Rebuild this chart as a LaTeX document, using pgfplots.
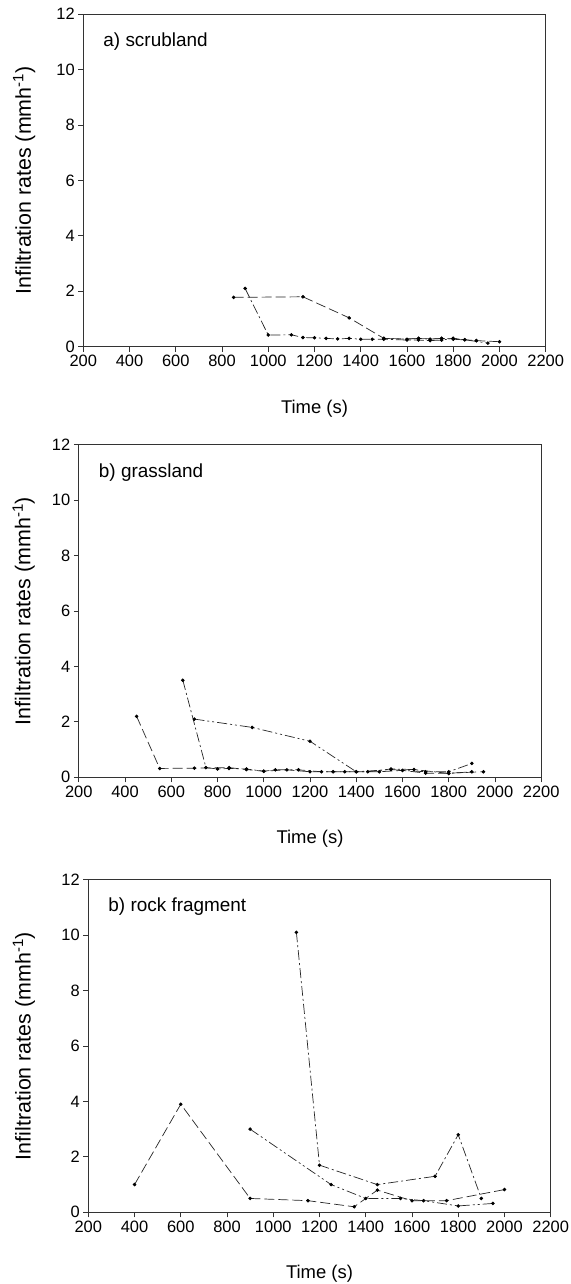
\documentclass[border=0pt]{standalone}
\usepackage{fontspec}
\setmainfont{Liberation Sans}
\usepackage{pgfplots}
\pgfplotsset{compat=1.18}

\pgfplotsset{
  panel/.style={
    scale only axis,
    width=462.4bp, height=332.7bp,
    anchor=south west,
    xmin=200, xmax=2200, ymin=0, ymax=12,
    xtick={200,400,...,2200}, ytick={0,2,...,12},
    tick align=outside, xtick pos=bottom, ytick pos=left,
    major tick length=5bp,
    axis line style={black!80, line width=0.8bp},
    every tick/.style={black!80, line width=0.8bp},
    /pgf/number format/assume math mode=true,
    /pgf/number format/1000 sep={},
    tick label style={font=\fontsize{16.5}{18}\selectfont},
    xlabel={Time (s)},
    ylabel={Infiltration rates (mmh\textsuperscript{-1})},
    every axis x label/.style={at={(axis description cs:0.5,-0.186)}, anchor=center,
      font=\fontsize{18.5}{21}\selectfont},
    clip=false,
  },
  ylab/.style={every axis y label/.style={at={(axis description cs:#1,0.5)}, rotate=90, anchor=center,
      font=\fontsize{21.5}{24}\selectfont}},
  ldash/.style={black!85, line width=0.7bp, dash pattern=on 10bp off 4bp,
    mark=*, mark size=1.4bp, mark options={solid, black}},
  ddot/.style={black!85, line width=0.7bp, dash pattern=on 10bp off 3bp on 2bp off 3bp,
    mark=*, mark size=1.4bp, mark options={solid, black}},
  dddot/.style={black!85, line width=0.7bp, dash pattern=on 10bp off 3bp on 2bp off 3bp on 2bp off 3bp,
    mark=*, mark size=1.4bp, mark options={solid, black}},
}

\begin{document}
\begin{tikzpicture}
\useasboundingbox (0,0) rectangle (571bp,-1284bp);

% a) scrubland
\begin{axis}[panel, at={(83.3bp,-346.7bp)}, ylab=-0.128]
\addplot[ldash] coordinates {(850,1.78) (1150,1.8) (1350,1.04) (1500,0.3) (1650,0.3) (1750,0.3) (1800,0.3) (1850,0.25) (1900,0.22) (2000,0.18)};
\addplot[ddot] coordinates {(900,2.1) (1000,0.42) (1100,0.43) (1150,0.33) (1200,0.32) (1250,0.3) (1300,0.28) (1350,0.3) (1400,0.27) (1450,0.27) (1500,0.27) (1600,0.24) (1650,0.24) (1700,0.22) (1750,0.24) (1800,0.3) (1850,0.25) (1950,0.13)};
\addplot[dddot] coordinates {(1500,0.3) (1600,0.27) (1650,0.3) (1700,0.27) (1750,0.3) (1800,0.27) (1900,0.22)};
\node[anchor=west, font=\fontsize{19}{21}\selectfont] at (rel axis cs:0.036,0.917) {a) scrubland};
\end{axis}

% b) grassland
\begin{axis}[panel, at={(78.8bp,-777.3bp)}, ylab=-0.119]
\addplot[ldash] coordinates {(450,2.2) (550,0.32) (700,0.33) (850,0.35) (925,0.28) (1000,0.22) (1100,0.27) (1200,0.2) (1300,0.2) (1400,0.2) (1500,0.2) (1600,0.25) (1700,0.15) (1800,0.15) (1950,0.2)};
\addplot[ddot] coordinates {(650,3.5) (750,0.35) (800,0.3) (850,0.32) (925,0.3) (1000,0.22) (1050,0.27) (1150,0.27) (1250,0.2) (1350,0.2) (1450,0.2) (1550,0.3) (1650,0.28) (1800,0.14) (1900,0.2)};
\addplot[dddot] coordinates {(700,2.1) (950,1.8) (1200,1.3) (1400,0.2) (1550,0.28) (1700,0.2) (1800,0.2) (1900,0.5)};
\node[anchor=west, font=\fontsize{19}{21}\selectfont] at (rel axis cs:0.036,0.917) {b) grassland};
\end{axis}

% b) rock fragment
\begin{axis}[panel, at={(88.3bp,-1212.3bp)}, ylab=-0.139]
\addplot[ldash] coordinates {(400,1.0) (600,3.9) (900,0.5) (1150,0.42) (1350,0.2) (1450,0.8) (1600,0.42) (1750,0.42) (2000,0.82)};
\addplot[ddot] coordinates {(1100,10.1) (1200,1.7) (1450,1.0) (1700,1.3) (1800,2.8) (1900,0.5)};
\addplot[dddot] coordinates {(900,3.0) (1250,1.0) (1400,0.5) (1550,0.5) (1650,0.42) (1800,0.23) (1950,0.32)};
\node[anchor=west, font=\fontsize{19}{21}\selectfont] at (rel axis cs:0.036,0.919) {b) rock fragment};
\end{axis}
\end{tikzpicture}
\end{document}
